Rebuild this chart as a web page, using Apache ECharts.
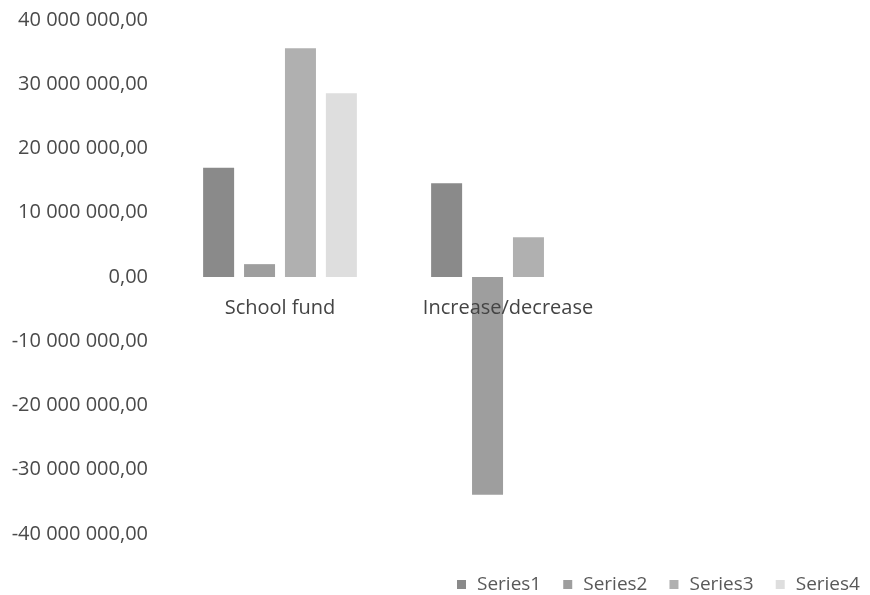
<!DOCTYPE html>
<html>
<head>
<meta charset="utf-8">
<script src="https://cdn.jsdelivr.net/npm/echarts@6/dist/echarts.min.js"></script>
<style>html,body{margin:0;padding:0;background:#fff;}#c{width:870px;height:595px;}</style>
</head>
<body>
<div id="c"></div>
<script>
var categories = ['School fund', 'Increase/decrease', ''];
var seriesNames = ['Series1', 'Series2', 'Series3', 'Series4'];
var series1 = [17000000, 14600000, null];
var series2 = [2000000, -33900000, null];
var series3 = [35600000, 6200000, null];
var series4 = [28600000, 0, null];
var yMin = -40000000, yMax = 40000000, yStep = 10000000;

function fmt(v) {
  var neg = v < 0;
  var s = Math.abs(Math.round(v)).toString();
  var out = s.replace(/\B(?=(\d{3})+(?!\d))/g, ' ');
  return (neg ? '-' : '') + out + ',00';
}

var colors = ['#8a8a8a', '#9e9e9e', '#b0b0b0', '#dedede'];
var data = [series1, series2, series3, series4];
var chart = echarts.init(document.getElementById('c'), null, {renderer: 'canvas'});
var font = 'Open Sans';
var barSeries = seriesNames.map(function (n, i) {
  return {name: n, type: 'bar', data: data[i], barWidth: 31, barGap: '32%', z: 2,
    itemStyle: {color: colors[i]}};
});
// category labels placed next to the zero line (like the original)
barSeries.push({
  name: 'catLabels', type: 'scatter', symbolSize: 0, silent: true, z: 5,
  itemStyle: {opacity: 1},
  data: categories.map(function (c) { return 0; }),
  label: {show: true, position: 'bottom', distance: 21,
    fontFamily: font, fontSize: 20, color: '#444444', opacity: 1,
    formatter: function (p) { return categories[p.dataIndex]; }}
});
chart.setOption({
  animation: false,
  color: colors,
  grid: {left: 166, right: 20, top: 20, bottom: 61, containLabel: false},
  legend: {
    data: seriesNames,
    left: 452, top: 570,
    icon: 'rect', itemWidth: 9, itemHeight: 9, itemGap: 22,
    textStyle: {fontFamily: font, fontSize: 19, color: '#595959', padding: [0, 0, 0, 6]}
  },
  xAxis: {
    type: 'category', data: categories,
    axisLine: {show: false},
    axisTick: {show: false},
    splitLine: {show: false},
    axisLabel: {show: false}
  },
  yAxis: {
    type: 'value', min: yMin, max: yMax, interval: yStep,
    axisLine: {show: false}, axisTick: {show: false},
    splitLine: {show: false},
    axisLabel: {fontFamily: font, fontSize: 20, color: '#4a4a4a', margin: 18, formatter: fmt}
  },
  series: barSeries
});
</script>
</body>
</html>
